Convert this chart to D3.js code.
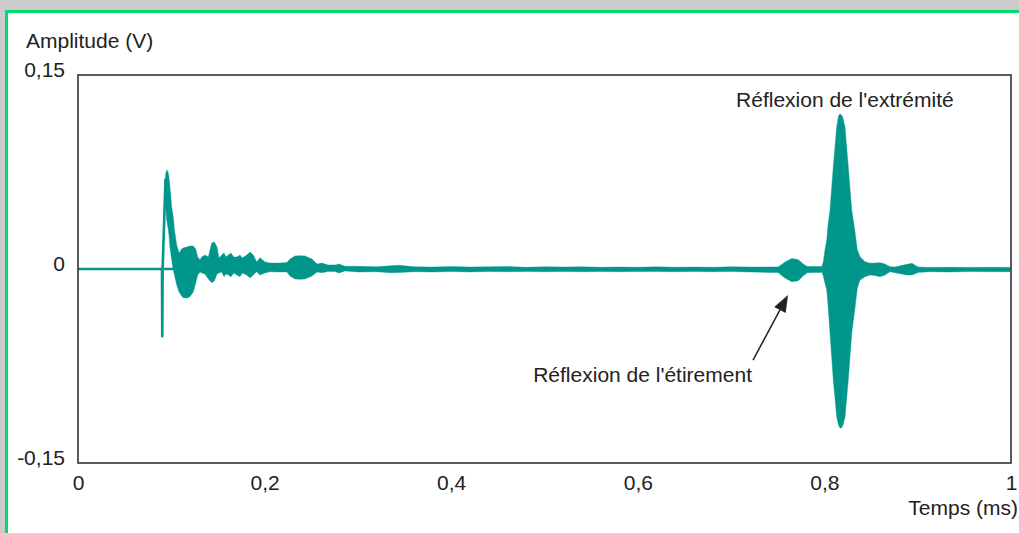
<!DOCTYPE html>
<html>
<head>
<meta charset="utf-8">
<script src="https://cdn.jsdelivr.net/npm/d3@7"></script>
<style>
  body { margin: 0; background: #cccccc; }
  text { font-family: "Liberation Sans", Arial, sans-serif; fill: #222; }
</style>
</head>
<body>
<div id="chart"></div>
<script>
// time (ms) where the signal leaves the flat line
const onsetTime = [0.0890, 0.0900, 0.0903, 0.0907, 0.0938];
const onsetVolt = [0, 0, -0.052, 0, 0.0700];

// envelope of the recorded signal: time (ms), upper and lower bound (V)
const envTime = [
  0.0938, 0.0951, 0.0965, 0.0975, 0.0986, 0.1004, 0.1021, 0.1034, 0.1058, 0.1083,
  0.1111, 0.1129, 0.1165, 0.1200, 0.1236, 0.1262, 0.1283, 0.1308, 0.1326, 0.1361,
  0.1397, 0.1433, 0.1461, 0.1490, 0.1511, 0.1540, 0.1565, 0.1586, 0.1611, 0.1640,
  0.1669, 0.1704, 0.1736, 0.1761, 0.1808, 0.1844, 0.1879, 0.1915, 0.1951, 0.2004,
  0.2058, 0.2165, 0.2240, 0.2272, 0.2326, 0.2379, 0.2433, 0.2508, 0.2562, 0.2615,
  0.2680, 0.2755, 0.2797, 0.2862, 0.3000, 0.3200, 0.3350, 0.3450, 0.3600, 0.3800,
  0.4000, 0.4200, 0.4400, 0.4600, 0.4800, 0.5000, 0.5200, 0.5400, 0.5600, 0.5800,
  0.6000, 0.6200, 0.6400, 0.6600, 0.6800, 0.7000, 0.7200, 0.7417, 0.7503, 0.7535,
  0.7578, 0.7650, 0.7720, 0.7774, 0.7817, 0.7899, 0.7964, 0.7974, 0.7988, 0.8006,
  0.8025, 0.8039, 0.8060, 0.8095, 0.8132, 0.8151, 0.8167, 0.8183, 0.8199, 0.8221,
  0.8256, 0.8293, 0.8328, 0.8353, 0.8382, 0.8435, 0.8489, 0.8542, 0.8596, 0.8650,
  0.8703, 0.8757, 0.8885, 0.8939, 0.9003, 0.9132, 0.9346, 0.9561, 0.9775, 0.9989
];
const envHigh = [
  0.0727, 0.0766, 0.0750, 0.0712, 0.0634, 0.0480, 0.0402, 0.0302, 0.0186, 0.0124,
  0.0155, 0.0162, 0.0170, 0.0178, 0.0178, 0.0155, 0.0093, 0.0070, 0.0093, 0.0108,
  0.0093, 0.0201, 0.0209, 0.0170, 0.0085, 0.0108, 0.0124, 0.0093, 0.0108, 0.0124,
  0.0093, 0.0093, 0.0108, 0.0085, 0.0108, 0.0131, 0.0108, 0.0054, 0.0087, 0.0054,
  0.0046, 0.0046, 0.0050, 0.0077, 0.0101, 0.0103, 0.0101, 0.0077, 0.0039, 0.0046,
  0.0031, 0.0031, 0.0039, 0.0021, 0.0021, 0.0017, 0.0025, 0.0029, 0.0017, 0.0015,
  0.0019, 0.0015, 0.0017, 0.0019, 0.0013, 0.0017, 0.0015, 0.0017, 0.0013, 0.0015,
  0.0013, 0.0017, 0.0013, 0.0015, 0.0013, 0.0017, 0.0015, 0.0016, 0.0016, 0.0031,
  0.0054, 0.0082, 0.0072, 0.0039, 0.0019, 0.0019, 0.0019, 0.0023, 0.0054, 0.0147,
  0.0224, 0.0340, 0.0456, 0.0789, 0.1098, 0.1183, 0.1199, 0.1191, 0.1168, 0.1098,
  0.0789, 0.0456, 0.0286, 0.0147, 0.0095, 0.0056, 0.0044, 0.0046, 0.0049, 0.0039,
  0.0018, 0.0016, 0.0036, 0.0044, 0.0016, 0.0012, 0.0013, 0.0012, 0.0013, 0.0012
];
const envLow = [
  0.0495, 0.0379, 0.0317, 0.0263, 0.0162, 0.0070, -0.0008, -0.0046, -0.0124, -0.0178,
  -0.0209, -0.0222, -0.0224, -0.0214, -0.0176, -0.0108, -0.0046, -0.0023, -0.0031, -0.0039,
  -0.0077, -0.0106, -0.0093, -0.0039, -0.0031, -0.0023, -0.0060, -0.0039, -0.0046, -0.0060,
  -0.0031, -0.0046, -0.0060, -0.0031, -0.0046, -0.0070, -0.0046, -0.0021, -0.0046, -0.0031,
  -0.0021, -0.0023, -0.0023, -0.0054, -0.0077, -0.0080, -0.0077, -0.0054, -0.0023, -0.0029,
  -0.0019, -0.0019, -0.0031, -0.0015, -0.0023, -0.0021, -0.0029, -0.0027, -0.0021, -0.0023,
  -0.0019, -0.0023, -0.0019, -0.0021, -0.0019, -0.0021, -0.0019, -0.0021, -0.0019, -0.0021,
  -0.0019, -0.0019, -0.0021, -0.0019, -0.0021, -0.0019, -0.0023, -0.0027, -0.0027, -0.0046,
  -0.0070, -0.0098, -0.0090, -0.0052, -0.0029, -0.0027, -0.0027, -0.0023, -0.0054, -0.0108,
  -0.0162, -0.0278, -0.0495, -0.0858, -0.1145, -0.1206, -0.1230, -0.1230, -0.1206, -0.1145,
  -0.0858, -0.0495, -0.0302, -0.0147, -0.0085, -0.0060, -0.0046, -0.0050, -0.0060, -0.0046,
  -0.0021, -0.0029, -0.0046, -0.0046, -0.0027, -0.0021, -0.0023, -0.0019, -0.0021, -0.0021
];

const xTicks = [0, 0.2, 0.4, 0.6, 0.8, 1];
const xTickLabels = ["0", "0,2", "0,4", "0,6", "0,8", "1"];
const yTicks = [0.15, 0, -0.15];
const yTickLabels = ["0,15", "0", "-0,15"];

// annotations: text anchor point, and the arrow (from -> to) in data units
const labelTexts = ["Réflexion de l'extrémité", "Réflexion de l'étirement"];
const labelTime = [0.7053, 0.7224];
const labelVolt = [0.1253, -0.0874];
const labelAnchor = ["start", "end"];
const arrowFrom = [0.7235, -0.0704];
const arrowTo = [0.7610, -0.0201];

const W = 1019, H = 533;
const margin = { top: 75, left: 78 },
      width = 933,
      height = 388;
const teal = "#00968c";

const root = d3.select("#chart").append("svg")
    .attr("width", W)
    .attr("height", H);

root.append("rect")
    .attr("width", W).attr("height", H)
    .attr("fill", "#cccccc");
root.append("rect")
    .attr("x", 6.5).attr("y", 11.5)
    .attr("width", W).attr("height", H)
    .attr("fill", "white")
    .attr("stroke", "#00dc6a")
    .attr("stroke-width", 3);

const svg = root.append("g")
    .attr("transform", `translate(${margin.left},${margin.top})`);

const x = d3.scaleLinear().domain([0, 1]).range([0, width]);
const y = d3.scaleLinear().domain([-0.15, 0.15]).range([height, 0]);

// flat zero trace
svg.append("line")
    .attr("x1", x(0)).attr("x2", x(1))
    .attr("y1", y(0)).attr("y2", y(0))
    .attr("stroke", teal)
    .attr("stroke-width", 2.6);

// onset spike
const onset = onsetTime.map((t, i) => ({ t, v: onsetVolt[i] }));
svg.append("path")
    .datum(onset)
    .attr("fill", "none")
    .attr("stroke", teal)
    .attr("stroke-width", 2.6)
    .attr("stroke-linejoin", "round")
    .attr("d", d3.line().x(d => x(d.t)).y(d => y(d.v)));

// oscillation envelope
const env = envTime.map((t, i) => ({ t, hi: envHigh[i], lo: envLow[i] }));
svg.append("path")
    .datum(env)
    .attr("fill", teal)
    .attr("stroke", teal)
    .attr("stroke-width", 0.4)
    .attr("d", d3.area()
        .x(d => x(d.t))
        .y0(d => y(d.lo))
        .y1(d => y(d.hi)));

// frame
svg.append("rect")
    .attr("width", width).attr("height", height)
    .attr("fill", "none")
    .attr("stroke", "#333")
    .attr("stroke-width", 1.6);

// tick labels
svg.append("g").attr("transform", `translate(0,${height})`)
    .call(d3.axisBottom(x).tickValues(xTicks).tickSize(0).tickPadding(12)
        .tickFormat((d, i) => xTickLabels[i]))
    .call(g => g.select(".domain").remove())
    .selectAll("text")
        .attr("dy", "0.71em")
        .style("font-size", "21px")
        .style("font-family", "'Liberation Sans', Arial, sans-serif")
        .attr("fill", "#222");

svg.append("g")
    .call(d3.axisLeft(y).tickValues(yTicks).tickSize(0).tickPadding(13)
        .tickFormat((d, i) => yTickLabels[i]))
    .call(g => g.select(".domain").remove())
    .selectAll("text")
        .attr("dy", "1px")
        .style("font-size", "21px")
        .style("font-family", "'Liberation Sans', Arial, sans-serif")
        .attr("fill", "#222");

// axis titles
svg.append("text")
    .attr("x", -52)
    .attr("y", -27)
    .style("font-size", "21px")
    .text("Amplitude (V)");

svg.append("text")
    .attr("x", width + 7)
    .attr("y", height + 52)
    .attr("text-anchor", "end")
    .style("font-size", "21px")
    .text("Temps (ms)");

// annotations
labelTexts.forEach((s, i) => {
  svg.append("text")
      .attr("x", x(labelTime[i]))
      .attr("y", y(labelVolt[i]))
      .attr("text-anchor", labelAnchor[i])
      .style("font-size", "21px")
      .text(s);
});

const ax0 = x(arrowFrom[0]), ay0 = y(arrowFrom[1]),
      ax1 = x(arrowTo[0]), ay1 = y(arrowTo[1]);
const ang = Math.atan2(ay1 - ay0, ax1 - ax0);
const headLen = 17, headHalf = 6.5;
const bx = ax1 - headLen * Math.cos(ang), by = ay1 - headLen * Math.sin(ang);

svg.append("line")
    .attr("x1", ax0).attr("y1", ay0)
    .attr("x2", bx).attr("y2", by)
    .attr("stroke", "#222")
    .attr("stroke-width", 1.5);

svg.append("path")
    .attr("fill", "#222")
    .attr("d", d3.line()([
      [ax1, ay1],
      [bx + headHalf * Math.sin(ang), by - headHalf * Math.cos(ang)],
      [bx - headHalf * Math.sin(ang), by + headHalf * Math.cos(ang)]
    ]) + "Z");
</script>
</body>
</html>
